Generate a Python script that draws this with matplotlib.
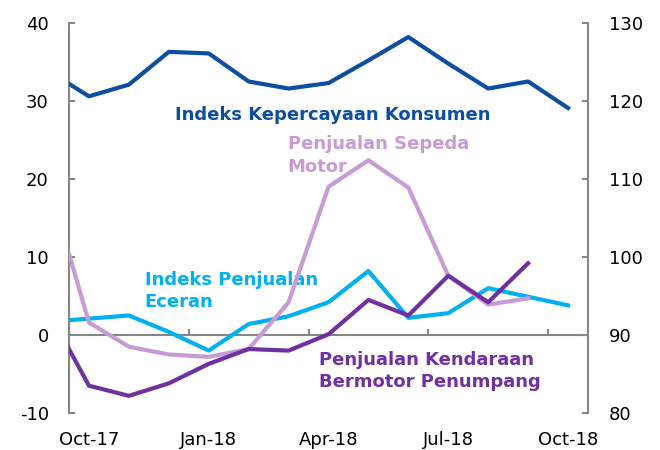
import numpy as np
import matplotlib
matplotlib.use("Agg")
from matplotlib import pyplot as plt

plt.rcParams['font.family'] = ['DejaVu Sans']
plt.rcParams['axes.unicode_minus'] = False

# bulan Sep-17 .. Oct-18 (Sep-17 hanya terlihat separuh di tepi kiri)
bulan = ['Sep-17', 'Oct-17', 'Nov-17', 'Dec-17', 'Jan-18', 'Feb-18', 'Mar-18',
         'Apr-18', 'May-18', 'Jun-18', 'Jul-18', 'Aug-18', 'Sep-18', 'Oct-18']
ikk = [123.8, 120.6, 122.1, 126.3, 126.1, 122.5, 121.6,
       122.3, 125.2, 128.2, 124.8, 121.6, 122.5, 119.1]
ipr = [1.7, 2.1, 2.5, 0.4, -2.0, 1.4, 2.4, 4.2, 8.2, 2.2, 2.8, 6.0, 4.9, 3.8]
motor = [19.2, 1.6, -1.5, -2.5, -2.8, -1.8, 4.2,
         19.0, 22.4, 18.9, 7.6, 3.9, 4.7, np.nan]
mobil = [2.9, -6.5, -7.8, -6.2, -3.7, -1.8, -2.0,
         0.1, 4.5, 2.5, 7.6, 4.2, 9.2, np.nan]
label_x = ['Oct-17', 'Jan-18', 'Apr-18', 'Jul-18', 'Oct-18']

x = np.arange(len(bulan)) - 1   # Oct-17 = 0

fig = plt.figure(figsize=(6.6, 4.5), dpi=100)
ax = fig.add_axes([69/660, 1-413/450, (588-69)/660, (413-23)/450])
ax2 = ax.twinx()

abu = '#868686'
ax.plot(x, ipr, color='#00B0F0', lw=3, zorder=3)
ax.plot(x, motor, color='#C89BD6', lw=3, zorder=3.1)
ax.plot(x, mobil, color='#7030A0', lw=3, zorder=3.2)
ax2.plot(x, ikk, color='#0D4EA2', lw=3, zorder=3)

ax.set_xlim(-0.5, 12.5)
ax.set_ylim(-10, 40)
ax2.set_ylim(80, 130)
ax.set_yticks([-10, 0, 10, 20, 30, 40])
ax2.set_yticks([80, 90, 100, 110, 120, 130])

for s in ['top', 'right']:
    ax.spines[s].set_visible(False)
for s in ['top', 'left', 'bottom']:
    ax2.spines[s].set_visible(False)
ax.spines['bottom'].set_position(('data', 0))
for sp in [ax.spines['left'], ax.spines['bottom'], ax2.spines['right']]:
    sp.set_color(abu)
    sp.set_linewidth(1.5)
ax.spines['bottom'].set_zorder(2)

ax.tick_params(axis='y', direction='in', length=4.5, width=1.5, color=abu,
               labelsize=13, pad=14.5)
ax2.tick_params(axis='y', direction='in', length=4.5, width=1.5, color=abu,
                labelsize=13, pad=15)
ax.set_xticks([-0.5, 2.5, 5.5, 8.5, 11.5], minor=True)
ax.set_xticks([])
ax.tick_params(axis='x', which='minor', direction='in', length=4, width=1.5, color=abu)

sec = ax.secondary_xaxis('bottom')
sec.set_xticks([0, 3, 6, 9, 12])
sec.set_xticklabels(label_x)
sec.tick_params(length=0, labelsize=13, pad=13)
for s in sec.spines.values():
    s.set_visible(False)

ax.text(2.15, 27.6, 'Indeks Kepercayaan Konsumen', color='#0D4EA2',
        fontsize=13, fontweight='bold', va='baseline')
ax.text(4.975, 25.6, 'Penjualan Sepeda\nMotor', color='#C89BD6',
        fontsize=13, fontweight='bold', va='top', linespacing=1.3)
ax.text(1.4, 8.2, 'Indeks Penjualan\nEceran', color='#00B0F0',
        fontsize=13, fontweight='bold', va='top', linespacing=1.3)
ax.text(5.75, -2.06, 'Penjualan Kendaraan\nBermotor Penumpang', color='#7030A0',
        fontsize=13, fontweight='bold', va='top', linespacing=1.3)

fig.savefig('out.png', dpi=100)
